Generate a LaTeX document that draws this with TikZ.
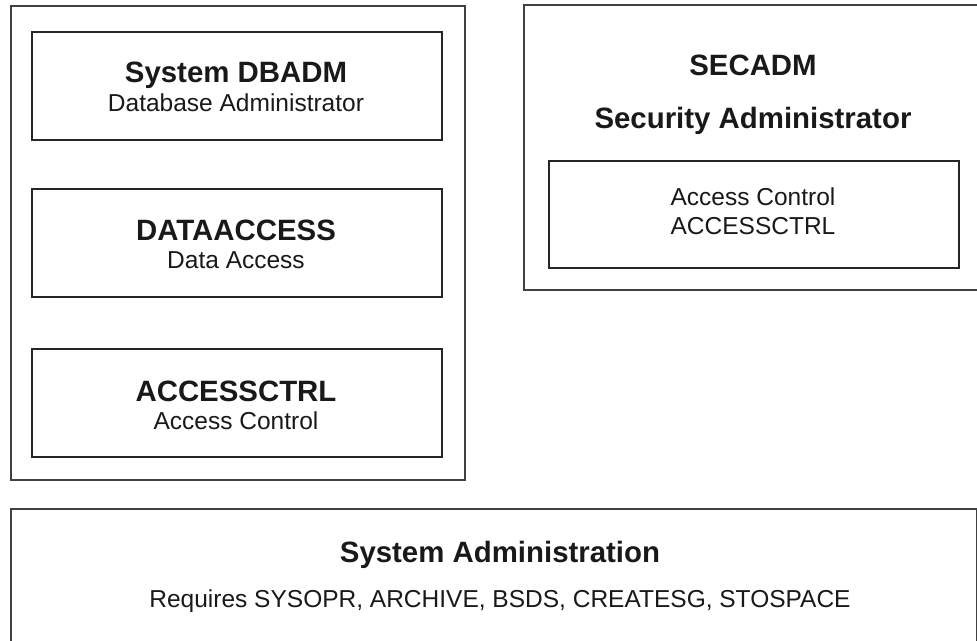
\documentclass[tikz,border=0pt]{standalone}
\usepackage{fontspec}
\setmainfont{Liberation Sans}
\begin{document}
\begin{tikzpicture}[x=1pt,y=-1pt,
  outerbox/.style={draw=black!75, line width=1.6pt, inner sep=0pt, anchor=north west},
  innerbox/.style={draw=black!85, line width=1.6pt, inner sep=0pt, anchor=north west},
  ttl/.style={font=\fontsize{29.4}{35}\selectfont\bfseries, text=black!90, anchor=base, inner sep=0pt},
  sub/.style={font=\fontsize{24.5}{29}\selectfont, text=black!90, anchor=base, inner sep=0pt}]
\useasboundingbox (0,0) rectangle (977,640);
\clip (0,0) rectangle (977,640);
% outer boxes
\node[outerbox, minimum width=454pt, minimum height=474pt] (dbgroup) at (10,5) {};
\node[outerbox, minimum width=460pt, minimum height=285pt] (secgroup) at (523,4) {};
\node[outerbox, minimum width=966pt, minimum height=200pt] (sysadm) at (10,508) {};
% inner boxes
\node[innerbox, minimum width=410pt, minimum height=108pt] (dbadm) at (31,31) {};
\node[innerbox, minimum width=410pt, minimum height=108pt] (dataacc) at (31,188) {};
\node[innerbox, minimum width=410pt, minimum height=108pt] (accctrl) at (31,348) {};
\node[innerbox, minimum width=410pt, minimum height=107pt] (secacc) at (548,160) {};
% texts
\node[ttl] (t1) at (236,82) {System DBADM};
\node[sub] (s1) at (236,111) {Database Administrator};
\node[ttl] (t2) at (236,240) {DATAACCESS};
\node[sub] (s2) at (236,268) {Data Access};
\node[ttl] (t3) at (236,401) {ACCESSCTRL};
\node[sub] (s3) at (236,429) {Access Control};
\node[ttl] (t4) at (753,75) {SECADM};
\node[ttl] (t5) at (753,128) {Security Administrator};
\node[sub] (s4) at (753,205) {Access Control};
\node[sub] (s5) at (753,234) {ACCESSCTRL};
\node[ttl] (t6) at (500,562) {System Administration};
\node[sub] (s6) at (500,607) {Requires SYSOPR, ARCHIVE, BSDS, CREATESG, STOSPACE};
\end{tikzpicture}
\end{document}
